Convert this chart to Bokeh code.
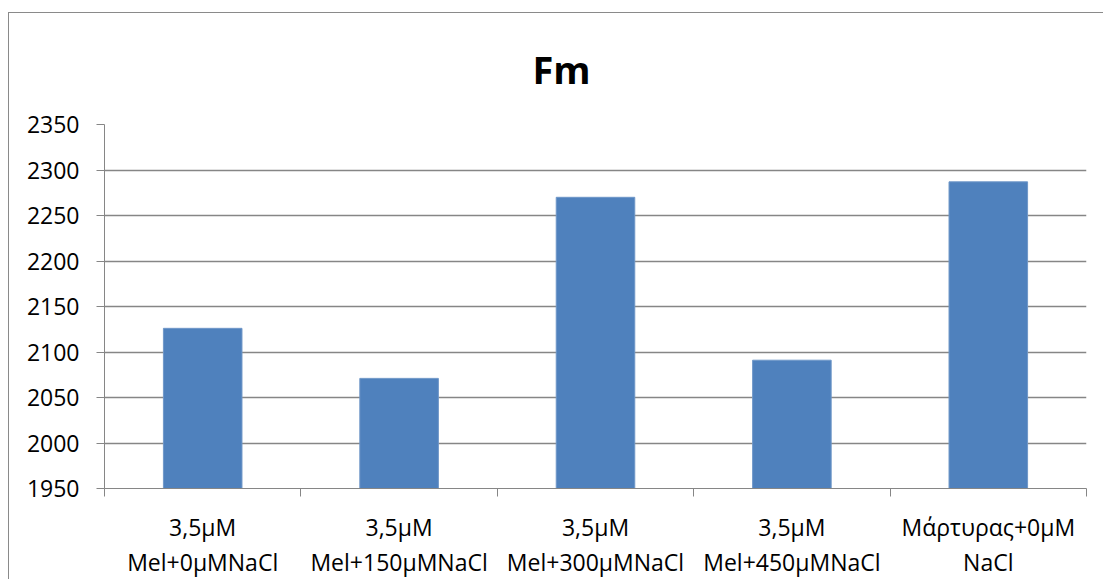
from bokeh.plotting import figure
from bokeh.models import FixedTicker, Range1d, ColumnDataSource
from bokeh.embed import file_html
from bokeh.resources import INLINE

categories = ["3,5μM\nMel+0μMNaCl", "3,5μM\nMel+150μMNaCl", "3,5μM\nMel+300μMNaCl",
              "3,5μM\nMel+450μMNaCl", "Μάρτυρας+0μΜ\nNaCl"]
values = [2126, 2071, 2270, 2091, 2287]
y_ticks = [1950, 2000, 2050, 2100, 2150, 2200, 2250, 2300, 2350]
title_text = "Fm"

xs = list(range(1, len(categories) + 1))
src = ColumnDataSource(dict(x=xs, top=values))

GRID = "#868686"
FONT = "Open Sans"

p = figure(width=1095, height=567, output_backend="svg", toolbar_location=None,
           x_range=Range1d(0.5, len(categories) + 0.5), y_range=Range1d(1950, 2350),
           min_border_left=95, min_border_right=18, min_border_top=111, min_border_bottom=78,
           outline_line_color=None, background_fill_color="white", border_fill_color="white",
           title=title_text)
p.styles = {"margin-left": "8px", "margin-top": "12px",
            "border-left": "1px solid #8a8a8a", "border-top": "1px solid #8a8a8a"}

p.title.align = "left"
p.title.offset = 428
p.title.vertical_align = "top"
p.title.text_font = FONT
p.title.text_font_style = "bold"
p.title.text_font_size = "38px"
p.title.text_color = "black"
p.title.standoff = 55

p.vbar(x="x", top="top", bottom=1950, width=0.4, source=src,
       fill_color="#4F81BD", line_color="#6f97c8", line_width=1)

# y axis
p.yaxis.ticker = FixedTicker(ticks=y_ticks)
p.yaxis.axis_line_color = GRID
p.yaxis.major_tick_line_color = GRID
p.yaxis.major_tick_out = 8
p.yaxis.major_tick_in = 0
p.yaxis.minor_tick_line_color = None
p.yaxis.major_label_text_font = FONT
p.yaxis.major_label_text_font_size = "23px"
p.yaxis.major_label_text_color = "black"
p.yaxis.major_label_standoff = 17

# x axis
p.xaxis.ticker = FixedTicker(ticks=xs, minor_ticks=[x - 0.5 for x in xs] + [xs[-1] + 0.5])
p.xaxis.major_label_overrides = {x: c for x, c in zip(xs, categories)}
p.xaxis.axis_line_color = GRID
p.xaxis.major_tick_line_color = None
p.xaxis.minor_tick_line_color = GRID
p.xaxis.minor_tick_out = 8
p.xaxis.minor_tick_in = 0
p.xaxis.major_label_text_font = FONT
p.xaxis.major_label_text_font_size = "23px"
p.xaxis.major_label_text_color = "black"
p.xaxis.major_label_text_line_height = 1.1
p.xaxis.major_label_standoff = 14

p.xgrid.grid_line_color = None
p.ygrid.grid_line_color = GRID
p.ygrid.grid_line_width = 1.5

open("out.html", "w").write(file_html(p, INLINE))
